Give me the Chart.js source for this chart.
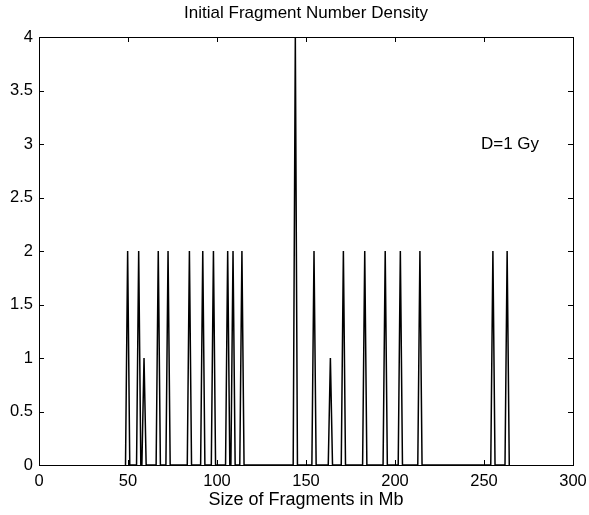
<!DOCTYPE html>
<html>
<head>
<meta charset="utf-8">
<script src="https://cdn.jsdelivr.net/npm/chart.js@4/dist/chart.umd.min.js"></script>
<style>
  html, body { margin: 0; padding: 0; background: #fff; }
  #wrap { width: 589px; height: 515px; position: relative; }
</style>
</head>
<body>
<div id="wrap"><canvas id="c" width="589" height="515"></canvas></div>
<script>
// ---- data ----
const spikeCenters = [49.8, 56, 59, 67, 72.5, 84.5, 92, 98, 106, 109, 114, 144, 154.5, 163.7, 171, 183, 194.5, 203, 214, 255, 263];
const spikeHeights = [2, 2, 1, 2, 2, 2, 2, 2, 2, 2, 2, 4, 2, 1, 2, 2, 2, 2, 2, 2, 2];
const xTickValues = [0, 50, 100, 150, 200, 250, 300];
const yTickValues = [0, 0.5, 1, 1.5, 2, 2.5, 3, 3.5, 4];
const titleText = 'Initial Fragment Number Density';
const xTitleText = 'Size of Fragments in Mb';
const annotationText = 'D=1 Gy';
const annotationAt = { x: 248.3, y: 3.0 };

// each spike: zero on both sides of the peak (half-width in Mb)
const halfWidth = 1.2;
const points = [];
spikeCenters.forEach((c, i) => {
  points.push({ x: c - halfWidth, y: 0 });
  points.push({ x: c, y: spikeHeights[i] });
  points.push({ x: c + halfWidth, y: 0 });
});

const FONT = "'Liberation Sans', Arial, Helvetica, sans-serif";

const boxPlugin = {
  id: 'matlabBox',
  afterDatasetsDraw(chart) {
    const { ctx, chartArea: a, scales } = chart;
    const xs = scales.x, ys = scales.y;
    ctx.save();
    ctx.strokeStyle = '#000';
    ctx.lineWidth = 1;
    ctx.strokeRect(Math.round(a.left) + 0.5, Math.round(a.top) + 0.5,
                   Math.round(a.right - a.left), Math.round(a.bottom - a.top));
    const tl = 5;
    ctx.beginPath();
    xTickValues.forEach(v => {
      const px = Math.round(xs.getPixelForValue(v)) + 0.5;
      ctx.moveTo(px, a.bottom); ctx.lineTo(px, a.bottom - tl);
      ctx.moveTo(px, a.top); ctx.lineTo(px, a.top + tl);
    });
    yTickValues.forEach(v => {
      const py = Math.round(ys.getPixelForValue(v)) + 0.5;
      ctx.moveTo(a.left, py); ctx.lineTo(a.left + tl, py);
      ctx.moveTo(a.right, py); ctx.lineTo(a.right - tl, py);
    });
    ctx.stroke();
    ctx.fillStyle = '#000';
    // annotation
    ctx.font = '17px ' + FONT;
    ctx.textAlign = 'left';
    ctx.textBaseline = 'middle';
    ctx.fillText(annotationText, xs.getPixelForValue(annotationAt.x), ys.getPixelForValue(annotationAt.y));
    // title centred over the plot area
    ctx.font = '17px ' + FONT;
    ctx.textAlign = 'center';
    ctx.fillText(titleText, (a.left + a.right) / 2, 13);
    ctx.restore();
  }
};

new Chart(document.getElementById('c'), {
  type: 'line',
  data: {
    datasets: [{
      data: points,
      borderColor: '#000',
      borderWidth: 1.5,
      pointRadius: 0,
      tension: 0,
      fill: false
    }]
  },
  options: {
    responsive: false,
    animation: false,
    events: [],
    layout: { padding: { left: 0, right: 16, top: 37, bottom: 0 } },
    plugins: {
      legend: { display: false },
      tooltip: { enabled: false },
      title: { display: false }
    },
    scales: {
      x: {
        type: 'linear',
        min: 0, max: 300,
        afterBuildTicks(s) { s.ticks = xTickValues.map(v => ({ value: v })); },
        afterFit(s) { s.height = 50; s.paddingLeft = 0; s.paddingRight = 0; },
        grid: { display: false, drawTicks: false },
        border: { display: false },
        ticks: { color: '#000', font: { family: FONT, size: 16.5 }, padding: 7, maxRotation: 0,
                 callback: v => String(v) },
        title: {
          display: true, text: xTitleText, color: '#000',
          font: { family: FONT, size: 18 }, padding: { top: 0, bottom: 4.5 }
        }
      },
      y: {
        type: 'linear',
        min: 0, max: 4,
        afterBuildTicks(s) { s.ticks = yTickValues.map(v => ({ value: v })); },
        afterFit(s) { s.width = 39; s.paddingTop = 0; s.paddingBottom = 0; },
        grid: { display: false, drawTicks: false },
        border: { display: false },
        ticks: { color: '#000', font: { family: FONT, size: 16.5 }, padding: 6,
                 callback: v => String(v) }
      }
    }
  },
  plugins: [boxPlugin]
});
</script>
</body>
</html>
